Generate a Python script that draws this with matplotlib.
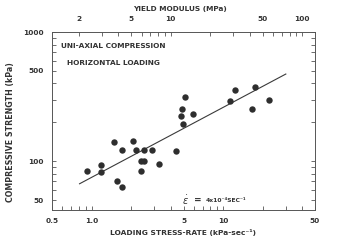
import matplotlib
matplotlib.use("Agg")
import matplotlib.pyplot as plt
from matplotlib.ticker import FixedLocator, FixedFormatter, NullFormatter

# Data (loading stress-rate kPa/s, compressive strength kPa)
stress_rate = [1.48, 2.08, 1.69, 2.19, 2.49, 2.89, 4.38, 1.18, 1.17, 0.92,
               2.37, 2.49, 3.26, 2.37, 1.56, 1.69, 5.15, 4.86, 4.78, 4.95,
               5.93, 12.4, 11.2, 17.6, 16.7, 22.5]
strength = [141, 143, 122, 122, 122, 122, 121, 93, 83, 84,
            100, 100, 95, 84, 70, 63, 314, 256, 223, 195,
            234, 358, 293, 376, 256, 296]
fit_x = [0.81, 30.0]
fit_y = [67, 473]

x_major = [0.5, 1.0, 5, 10, 50]
x_major_labels = ["0.5", "1.0", "5", "10", "50"]
x_minor = [0.6, 0.7, 0.8, 0.9, 2, 3, 4, 6, 7, 8, 9, 20, 30, 40]
top_major = [2, 5, 10, 50, 100]
top_major_labels = ["2", "5", "10", "50", "100"]
top_minor = [3, 4, 6, 7, 8, 9, 20, 30, 40, 60, 70, 80, 90]
y_major = [50, 100, 500, 1000]
y_major_labels = ["50", "100", "500", "1000"]
y_minor = [60, 70, 80, 90, 200, 300, 400, 600, 700, 800, 900]
modulus_factor = 2.5

TXT = "#333333"
FS = 5.3

fig = plt.figure(figsize=(3.5, 2.43), dpi=100)
ax = fig.add_axes([52/350, 1-210/243, 263/350, 178/243])

ax.set_xscale("log")
ax.set_yscale("log")
ax.set_xlim(0.5, 50)
ax.set_ylim(42, 1000)

ax.plot(fit_x, fit_y, color="#3a3a3a", lw=0.8)
ax.plot(stress_rate, strength, "o", color="#2e2e2e", ms=4.6, mec="none")

ax.xaxis.set_major_locator(FixedLocator(x_major))
ax.xaxis.set_major_formatter(FixedFormatter(x_major_labels))
ax.xaxis.set_minor_locator(FixedLocator(x_minor))
ax.xaxis.set_minor_formatter(NullFormatter())
ax.yaxis.set_major_locator(FixedLocator(y_major))
ax.yaxis.set_major_formatter(FixedFormatter(y_major_labels))
ax.yaxis.set_minor_locator(FixedLocator(y_minor))
ax.yaxis.set_minor_formatter(NullFormatter())

for sp in ax.spines.values():
    sp.set_color("#555555")
    sp.set_linewidth(0.7)

ax.tick_params(which="both", direction="in", length=3, width=0.6, color="#555555",
               top=False, right=True, labelright=False, labelsize=FS,
               labelcolor=TXT, pad=6)
for lab in ax.get_xticklabels() + ax.get_yticklabels():
    lab.set_fontweight("bold")

sec = ax.secondary_xaxis("top", functions=(lambda x: x*modulus_factor,
                                             lambda x: x/modulus_factor))
sec.set_xscale("log")
sec.xaxis.set_major_locator(FixedLocator(top_major))
sec.xaxis.set_major_formatter(FixedFormatter(top_major_labels))
sec.xaxis.set_minor_locator(FixedLocator(top_minor))
sec.xaxis.set_minor_formatter(NullFormatter())
sec.tick_params(which="both", direction="in", length=3, width=0.6, color="#555555",
                labelsize=FS, labelcolor=TXT, pad=7)
sec.spines["top"].set_visible(False)
for lab in sec.get_xticklabels():
    lab.set_fontweight("bold")

fig.text(180/350, 1-9/243, "YIELD MODULUS (MPa)", ha="center", va="center",
         fontsize=FS, fontweight="bold", color=TXT)

ax.set_xlabel("LOADING STRESS-RATE (kPa-sec⁻¹)", fontsize=5.4, fontweight="bold", color=TXT)
ax.xaxis.set_label_coords(0.5, -0.124)
ax.xaxis.label.set_va("center")

ax.set_ylabel("COMPRESSIVE STRENGTH (kPa)", fontsize=5.7, fontweight="bold", color=TXT)
ax.yaxis.set_label_coords(-0.156, 0.44)
ax.yaxis.label.set_va("center")

ax.text(0.233, 0.921, "UNI-AXIAL COMPRESSION", transform=ax.transAxes,
        ha="center", va="center", fontsize=FS, fontweight="bold", color=TXT)
ax.text(0.233, 0.826, "HORIZONTAL LOADING", transform=ax.transAxes,
        ha="center", va="center", fontsize=FS, fontweight="bold", color=TXT)

ax.text(0.508, 0.056, r"$\dot{\varepsilon}$", transform=ax.transAxes,
        ha="center", va="center", fontsize=7, color=TXT)
ax.text(0.556, 0.056, "=", transform=ax.transAxes,
        ha="center", va="center", fontsize=6.5, fontweight="bold", color=TXT)
ax.text(0.586, 0.056, "4x10⁻⁴SEC⁻¹", transform=ax.transAxes,
        ha="left", va="center", fontsize=4.3, fontweight="bold", color=TXT)

fig.savefig("out.png", dpi=100)
